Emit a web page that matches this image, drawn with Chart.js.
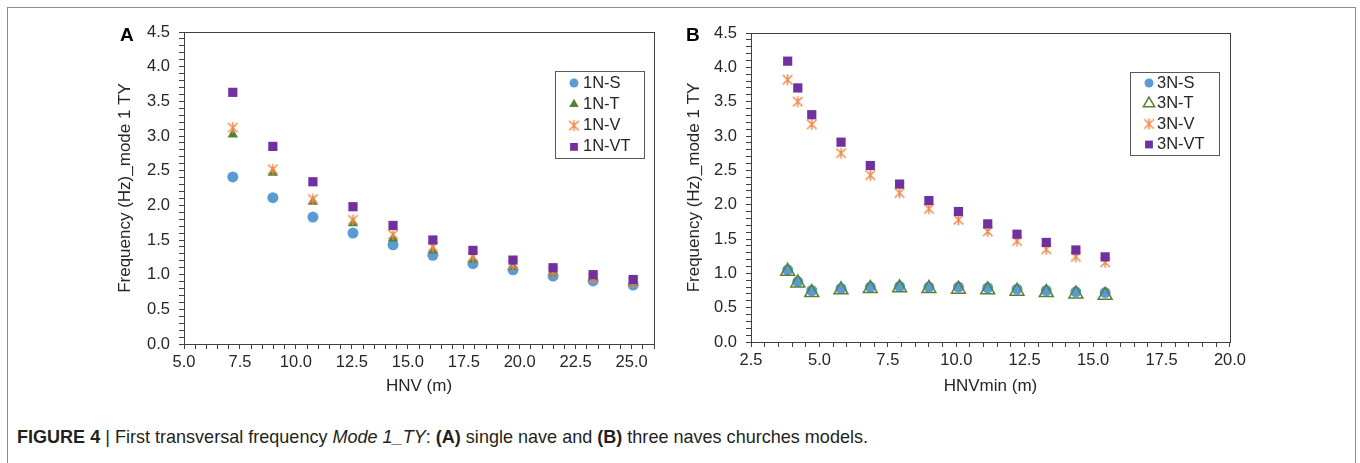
<!DOCTYPE html>
<html lang="en">
<head>
<meta charset="UTF-8">
<title>Figure 4 - First transversal frequency</title>
<script src="https://cdn.jsdelivr.net/npm/chart.js"></script>
<style>
  body { margin: 0; width: 1360px; height: 463px; overflow: hidden; background: #fff; position: relative;
         font-family: "Liberation Sans", Arial, sans-serif; }
  .frame { position: absolute; left: 7px; top: 7px; width: 1347px; height: 520px;
           border: 1.5px solid #8c8c8c; border-bottom: none; }
  canvas { position: absolute; }
  .panel { position: absolute; top: 25px; font-weight: bold; font-size: 19px; line-height: 19px; color: #000; }
  .caption { position: absolute; left: 17px; top: 426px; white-space: nowrap; color: #231f20;
             font-family: "Liberation Sans", Arial, sans-serif; font-size: 19px; transform-origin: 0 0; }
</style>
</head>
<body>
<div class="frame"></div>
<canvas id="chartA" width="580" height="400" style="left:100px;top:0"></canvas>
<canvas id="chartB" width="583" height="400" style="left:667px;top:0"></canvas>
<div class="panel" style="left:120px">A</div>
<div class="panel" style="left:686px">B</div>
<div class="caption" id="caption"><b>FIGURE 4</b> | First transversal frequency <i>Mode 1_TY</i>: <b>(A)</b> single nave and <b>(B)</b> three naves churches models.</div>

<script>
// ---- data ----
const hnvA = [7.18, 8.97, 10.76, 12.55, 14.34, 16.12, 17.91, 19.70, 21.49, 23.28, 25.07];
const freq1S  = [2.41, 2.11, 1.83, 1.60, 1.43, 1.28, 1.16, 1.07, 0.98, 0.91, 0.85];
const freq1T  = [3.02, 2.47, 2.05, 1.74, 1.52, 1.35, 1.22, 1.11, 1.02, 0.95, 0.88];
const freq1V  = [3.12, 2.52, 2.09, 1.79, 1.58, 1.40, 1.26, 1.14, 1.04, 0.95, 0.89];
const freq1VT = [3.63, 2.85, 2.34, 1.98, 1.71, 1.50, 1.35, 1.21, 1.10, 1.00, 0.93];
const labelsA = ['1N-S', '1N-T', '1N-V', '1N-VT'];

const hnvB = [3.84, 4.21, 4.72, 5.79, 6.86, 7.93, 9.00, 10.08, 11.15, 12.22, 13.29, 14.37, 15.44];
const freq3S  = [1.05, 0.88, 0.75, 0.78, 0.80, 0.81, 0.80, 0.80, 0.79, 0.77, 0.75, 0.73, 0.72];
const freq3T  = [1.03, 0.86, 0.72, 0.76, 0.78, 0.79, 0.78, 0.77, 0.76, 0.74, 0.72, 0.70, 0.68];
const freq3V  = [3.82, 3.50, 3.17, 2.75, 2.43, 2.17, 1.94, 1.78, 1.61, 1.47, 1.35, 1.24, 1.16];
const freq3VT = [4.09, 3.70, 3.31, 2.91, 2.57, 2.30, 2.06, 1.90, 1.72, 1.57, 1.45, 1.34, 1.24];
const labelsB = ['3N-S', '3N-T', '3N-V', '3N-VT'];

const xTicksA = [5.0, 7.5, 10.0, 12.5, 15.0, 17.5, 20.0, 22.5, 25.0];
const xTicksB = [2.5, 5.0, 7.5, 10.0, 12.5, 15.0, 17.5, 20.0];
const yTicks  = [0.0, 0.5, 1.0, 1.5, 2.0, 2.5, 3.0, 3.5, 4.0, 4.5];

const BLUE = '#5b9bd5', GREEN = '#548235', ORANGE = '#f08a4b', PURPLE = '#7030a0';
const AXIS = '#404040', TEXT = '#262626';
const FONT = '"Liberation Sans", Arial, sans-serif';

// squeeze the caption to the condensed width of the original
const cap = document.getElementById('caption');
cap.style.transform = 'scaleX(' + (851 / cap.getBoundingClientRect().width) + ')';

// excel-like star marker: an X with a vertical bar
function starMarker(size, color) {
  const c = document.createElement('canvas');
  c.width = size; c.height = size;
  const g = c.getContext('2d');
  g.strokeStyle = color; g.lineWidth = 1.5;
  const m = size / 2, r = size / 2 - 1;
  g.beginPath();
  g.moveTo(m - r * 0.87, m - r * 0.87); g.lineTo(m + r * 0.87, m + r * 0.87);
  g.moveTo(m + r * 0.87, m - r * 0.87); g.lineTo(m - r * 0.87, m + r * 0.87);
  g.moveTo(m, m - r); g.lineTo(m, m + r);
  g.stroke();
  return c;
}

function pts(xs, ys) { return xs.map((x, i) => ({ x: x, y: ys[i] })); }

function isLabel(list, v) { return list.some(t => Math.abs(t - v) < 1e-6); }

// plot frame + legend box drawn inside the plot area
const frameLegend = {
  id: 'frameLegend',
  afterDatasetsDraw(chart, args, o) {
    const { ctx, chartArea: a } = chart;
    ctx.save();
    ctx.strokeStyle = AXIS; ctx.lineWidth = 1;
    ctx.strokeRect(Math.round(a.left) + 0.5, Math.round(a.top) + 0.5,
                   Math.round(a.right - a.left), Math.round(a.bottom - a.top));
    ctx.fillStyle = '#fff';
    ctx.fillRect(o.x, o.y, o.w, o.h);
    ctx.strokeStyle = '#595959';
    ctx.strokeRect(o.x + 0.5, o.y + 0.5, o.w, o.h);
    chart.data.datasets.forEach((ds, i) => {
      const y = o.y + o.first + i * o.gap;
      ctx.fillStyle = ds.pointBackgroundColor;
      ctx.strokeStyle = ds.pointBorderColor;
      ctx.lineWidth = ds.pointBorderWidth;
      Chart.helpers.drawPoint(ctx, { pointStyle: ds.pointStyle, radius: ds.legendRadius,
                                     rotation: 0, borderWidth: ds.pointBorderWidth }, o.x + o.mx, y);
      ctx.fillStyle = TEXT;
      ctx.font = '16.5px ' + FONT;
      ctx.textBaseline = 'middle';
      ctx.fillText(ds.label, o.x + o.tx, y);
    });
    ctx.restore();
  }
};

function makeChart(id, xs, series, labels, hollowT, xmin, xmax, xTicks, xTitle, pad, legend, yTitlePad) {
  const sets = [
    { label: labels[0], data: pts(xs, series[0]), order: 4, pointStyle: 'circle', pointRadius: 5.5, legendRadius: 4.5,
      pointBackgroundColor: BLUE, pointBorderColor: BLUE, pointBorderWidth: 0 },
    { label: labels[1], data: pts(xs, series[1]), order: 3, pointStyle: 'triangle',
      pointRadius: hollowT ? 8 : 6, legendRadius: hollowT ? 6.5 : 5.5,
      pointBackgroundColor: hollowT ? 'rgba(0,0,0,0)' : GREEN, pointBorderColor: GREEN,
      pointBorderWidth: hollowT ? 1.5 : 0 },
    { label: labels[2], data: pts(xs, series[2]), order: 2, pointStyle: starMarker(13, ORANGE), pointRadius: 6, legendRadius: 6,
      pointBackgroundColor: ORANGE, pointBorderColor: ORANGE, pointBorderWidth: 0 },
    { label: labels[3], data: pts(xs, series[3]), order: 1, pointStyle: 'rect', pointRadius: 6.5, legendRadius: 5.5,
      pointBackgroundColor: PURPLE, pointBorderColor: PURPLE, pointBorderWidth: 0 }
  ];
  sets.forEach(s => { s.showLine = false; s.pointHoverRadius = s.pointRadius; });

  return new Chart(document.getElementById(id), {
    type: 'scatter',
    data: { datasets: sets },
    plugins: [frameLegend],
    options: {
      responsive: false,
      animation: false,
      layout: { padding: { left: pad.left, right: pad.right, top: pad.top, bottom: 0 } },
      plugins: { legend: { display: false }, tooltip: { enabled: false }, frameLegend: legend },
      scales: {
        x: {
          type: 'linear', min: xmin, max: xmax,
          border: { color: AXIS, width: 1 },
          grid: { drawOnChartArea: false, drawTicks: true, tickLength: 5, color: AXIS },
          ticks: { stepSize: 0.5, autoSkip: false, maxRotation: 0, padding: 4, color: TEXT,
                   font: { size: 16.5, family: FONT },
                   callback: v => isLabel(xTicks, v) ? v.toFixed(1) : '' },
          title: { display: true, text: xTitle, color: TEXT, font: { size: 17, family: FONT },
                   padding: { top: 0, bottom: 3 } },
          afterFit: s => { s.height = 400 - pad.top - pad.plotH; }
        },
        y: {
          type: 'linear', min: 0, max: 4.5,
          border: { color: AXIS, width: 1 },
          grid: { drawOnChartArea: false, drawTicks: true, tickLength: 5, color: AXIS },
          ticks: { stepSize: 0.1, autoSkip: false, padding: 9, color: TEXT,
                   font: { size: 16.5, family: FONT },
                   callback: v => isLabel(yTicks, v) ? v.toFixed(1) : '' },
          title: { display: true, text: 'Frequency (Hz)_mode 1 TY', color: TEXT, font: { size: 17, family: FONT },
                   padding: { top: yTitlePad, bottom: 0 } },
          afterFit: s => { s.width = 84; }
        }
      }
    }
  });
}

makeChart('chartA', hnvA, [freq1S, freq1T, freq1V, freq1VT], labelsA, false, 5, 26, xTicksA, 'HNV (m)',
  { left: 0, right: 26, top: 32, plotH: 312 },
  { x: 455, y: 71, w: 89, h: 87, first: 12, gap: 21.3, mx: 19, tx: 28 }, 15);

makeChart('chartB', hnvB, [freq3S, freq3T, freq3V, freq3VT], labelsB, true, 2.5, 20, xTicksB, 'HNVmin (m)',
  { left: 0, right: 20, top: 33, plotH: 309 },
  { x: 463, y: 72, w: 89, h: 83, first: 11, gap: 20.5, mx: 19, tx: 27 }, 17);
</script>
</body>
</html>
